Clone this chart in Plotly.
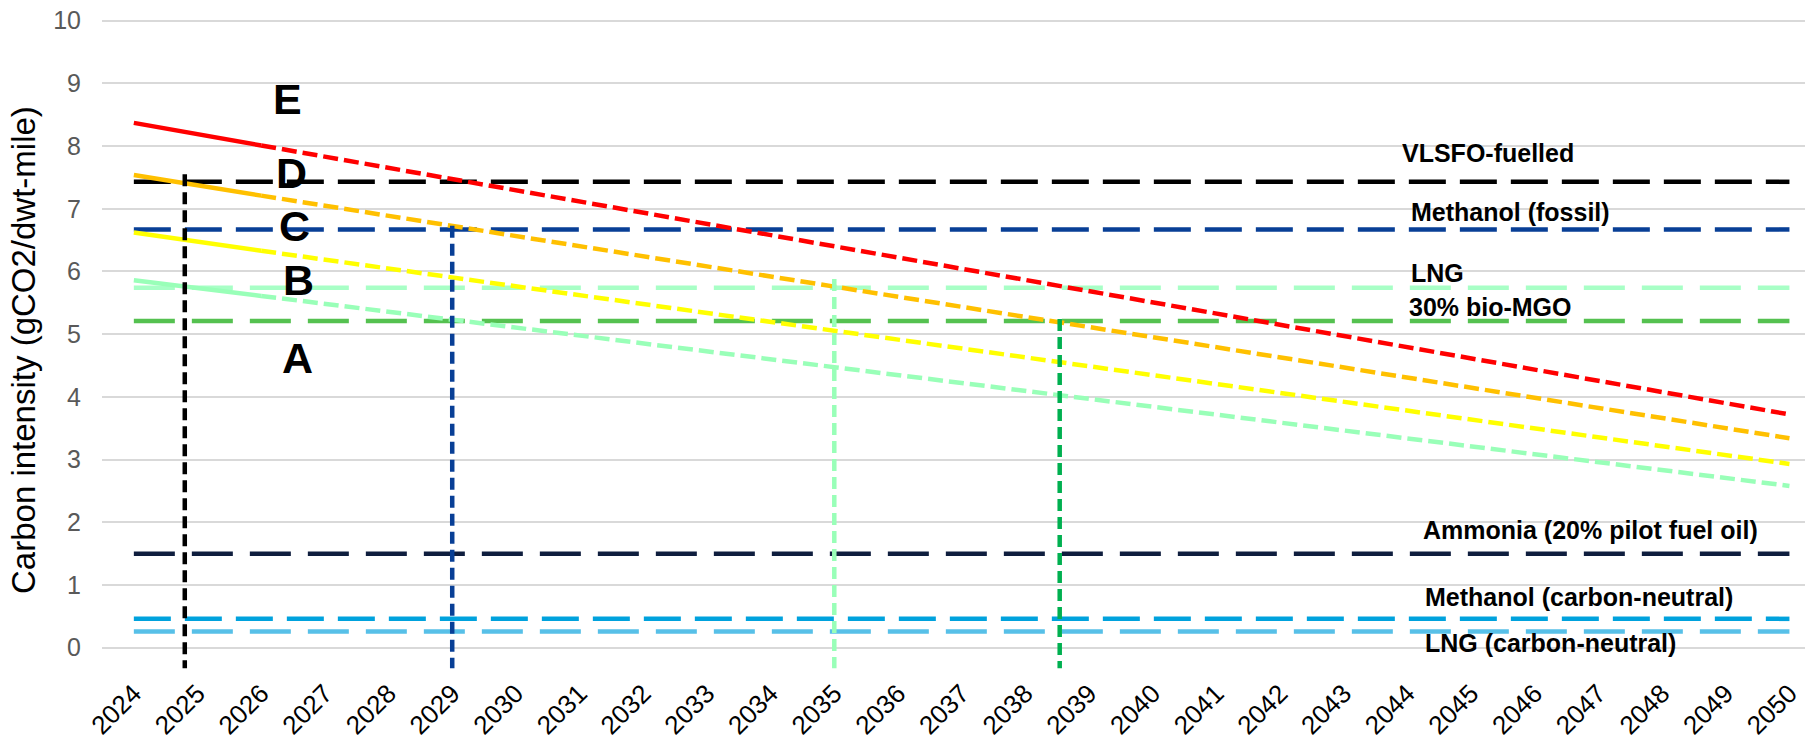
import plotly.graph_objects as go

# ---------------- data ----------------
years = list(range(2024, 2051))
tick_labels = [str(y) for y in years]

# CII rating boundary lines (solid = known, dashed = projected)
solid_years = [2024, 2026]
proj_years = [2026, 2050]
de_solid = [8.37, 8.01]
de_proj = [8.01, 3.72]
cd_solid = [7.54, 7.21]
cd_proj = [7.21, 3.34]
bc_solid = [6.62, 6.33]
bc_proj = [6.33, 2.93]
ab_solid = [5.86, 5.61]
ab_proj = [5.61, 2.58]

# attained carbon intensity by fuel
fuel_names = ["VLSFO-fuelled", "Methanol (fossil)", "LNG", "30% bio-MGO",
              "Ammonia (20% pilot fuel oil)", "Methanol (carbon-neutral)",
              "LNG (carbon-neutral)"]
fuel_values = [7.43, 6.67, 5.74, 5.21, 1.50, 0.46, 0.26]
fuel_span = [2024, 2050]

# year each fuel drops to rating E (vertical markers)
cross_years = [2024.8, 2029.0, 2035.0, 2038.54]
cross_tops = [7.55, 6.73, 5.88, 5.24]
cross_bottom = -0.33

rating_letters = ["E", "D", "C", "B", "A"]

# ---------------- styles / positions ----------------
boundary_colors = ["#FF0000", "#FFC000", "#FFFF00", "#99FFB8"]
fuel_colors = ["#000000", "#083F96", "#A8FFC6", "#55C150", "#0F1E3E", "#00A2DD", "#57C0E8"]
fuel_dash = ["37px,14px", "37px,14px", "41px,17px", "41px,17px", "41px,17px", "37px,14px", "41px,17px"]
cross_colors = ["#000000", "#083F96", "#99FFB8", "#00B050"]
letter_x = [2026.42, 2026.48, 2026.53, 2026.58, 2026.57]
letter_y = [8.75, 7.57, 6.73, 5.86, 4.62]
label_x = [2043.89, 2044.02, 2044.02, 2044.0, 2044.22, 2044.24, 2044.24]
label_y = [7.89, 6.95, 5.98, 5.43, 1.88, 0.81, 0.075]

FONT = "Liberation Sans, Arial, sans-serif"

fig = go.Figure()

# horizontal fuel lines
for name, val, col, dsh in zip(fuel_names, fuel_values, fuel_colors, fuel_dash):
    fig.add_trace(go.Scatter(x=fuel_span, y=[val, val], mode="lines", name=name,
                             line=dict(color=col, width=4.5, dash=dsh),
                             showlegend=False, hoverinfo="skip"))

# boundary lines
for sol, proj, col in zip([de_solid, cd_solid, bc_solid, ab_solid],
                          [de_proj, cd_proj, bc_proj, ab_proj], boundary_colors):
    fig.add_trace(go.Scatter(x=solid_years, y=sol, mode="lines",
                             line=dict(color=col, width=4.5), showlegend=False))
    fig.add_trace(go.Scatter(x=proj_years, y=proj, mode="lines",
                             line=dict(color=col, width=4.5, dash="15px,6px"),
                             showlegend=False))

# vertical markers
for xv, top, col in zip(cross_years, cross_tops, cross_colors):
    fig.add_trace(go.Scatter(x=[xv, xv], y=[top, cross_bottom], mode="lines",
                             line=dict(color=col, width=4.5, dash="12px,6px"),
                             showlegend=False))

annotations = []
for t, xv, yv in zip(rating_letters, letter_x, letter_y):
    annotations.append(dict(x=xv, y=yv, xref="x", yref="y", text=t, showarrow=False,
                            xanchor="center", yanchor="middle",
                            font=dict(family=FONT, size=43, color="#000000", weight="bold")))
for t, xv, yv in zip(fuel_names, label_x, label_y):
    annotations.append(dict(x=xv, y=yv, xref="x", yref="y", text=t, showarrow=False,
                            xanchor="left", yanchor="middle",
                            font=dict(family=FONT, size=25, color="#000000", weight="bold")))
annotations.append(dict(x=-0.0455, y=4.75, xref="paper", yref="y",
                        text="Carbon intensity (gCO2/dwt-mile)", textangle=-90,
                        showarrow=False, xanchor="center", yanchor="middle",
                        font=dict(family=FONT, size=33, color="#000000")))

# the page places the figure 8px in from the top-left corner
fig.update_layout(
    width=1805, height=735,
    margin=dict(l=94, r=0, t=2, b=73, autoexpand=False),
    paper_bgcolor="white", plot_bgcolor="white",
    annotations=annotations,
    showlegend=False,
    xaxis=dict(range=[2023.5, 2050.37], tickmode="array", tickvals=years,
               ticktext=tick_labels, tickangle=-45, showgrid=False, zeroline=False,
               showline=False, ticks="", ticklabelstandoff=2, automargin=False,
               ticklabeloverflow="allow",
               tickfont=dict(family=FONT, size=26, color="#000000")),
    yaxis=dict(range=[-0.356, 10.17], tickmode="linear", tick0=0, dtick=1,
               showgrid=True, gridcolor="#D9D9D9", gridwidth=1.5, zeroline=False,
               showline=False, ticks="", ticklabelstandoff=20, automargin=False,
               ticklabeloverflow="allow",
               tickfont=dict(family=FONT, size=25, color="#595959")),
)

fig.write_html("out.html")
